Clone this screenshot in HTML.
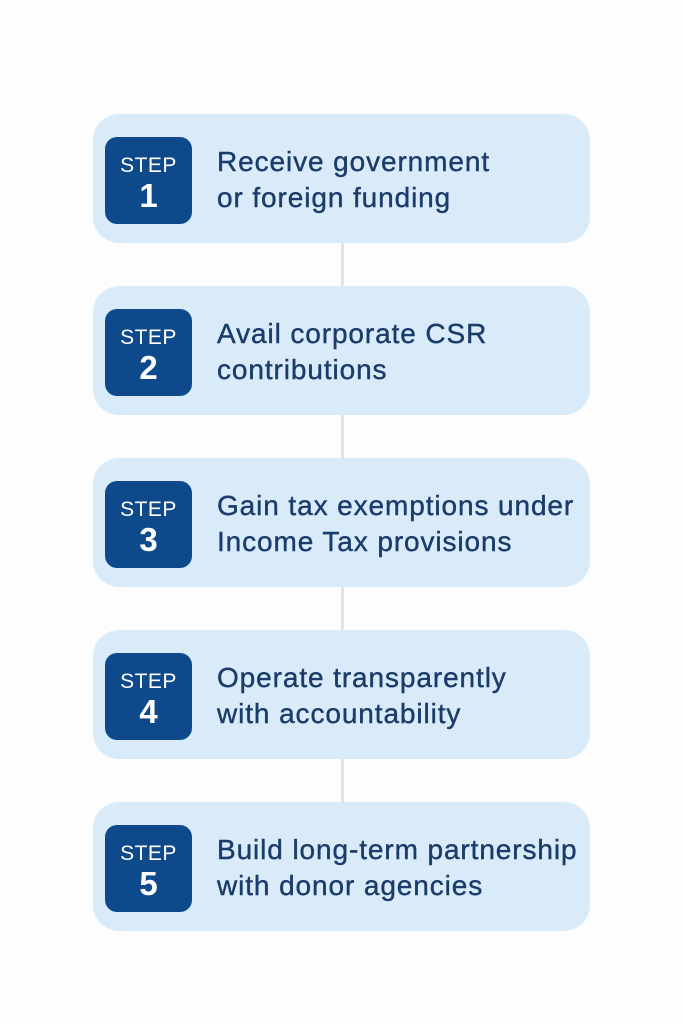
<!DOCTYPE html>
<html><head><style>
body{margin:0;width:683px;height:1024px;background:#fdfdfd;position:relative;font-family:"Liberation Sans",sans-serif;overflow:hidden}
.card{position:absolute;left:93px;width:497px;height:129px;background:#d9ebf8;border-radius:26px}
.badge{position:absolute;left:12px;top:23px;width:87px;height:87px;background:#0e4a8b;border-radius:12px;color:#fff;text-align:center}
.badge .s{font-size:21px;margin-top:18px;line-height:22px;letter-spacing:0.5px}
.badge .n{font-size:33px;line-height:36px;margin-top:1px;font-weight:bold}
.t{position:absolute;left:124px;top:30px;font-size:28px;line-height:36px;letter-spacing:0.9px;color:#1b3c6b;white-space:nowrap;-webkit-text-stroke:0.4px #1b3c6b}
.line{position:absolute;left:341px;width:3px;background:#e2e4e6}
</style></head><body>
<div class="line" style="top:243px;height:43px"></div>
<div class="line" style="top:415px;height:43px"></div>
<div class="line" style="top:587px;height:43px"></div>
<div class="line" style="top:759px;height:43px"></div>
<div class="card" style="top:114px"><div class="badge"><div class="s">STEP</div><div class="n">1</div></div><div class="t">Receive government<br>or foreign funding</div></div>
<div class="card" style="top:286px"><div class="badge"><div class="s">STEP</div><div class="n">2</div></div><div class="t">Avail corporate CSR<br>contributions</div></div>
<div class="card" style="top:458px"><div class="badge"><div class="s">STEP</div><div class="n">3</div></div><div class="t">Gain tax exemptions under<br>Income Tax provisions</div></div>
<div class="card" style="top:630px"><div class="badge"><div class="s">STEP</div><div class="n">4</div></div><div class="t">Operate transparently<br>with accountability</div></div>
<div class="card" style="top:802px"><div class="badge"><div class="s">STEP</div><div class="n">5</div></div><div class="t">Build long-term partnership<br>with donor agencies</div></div>
</body></html>
